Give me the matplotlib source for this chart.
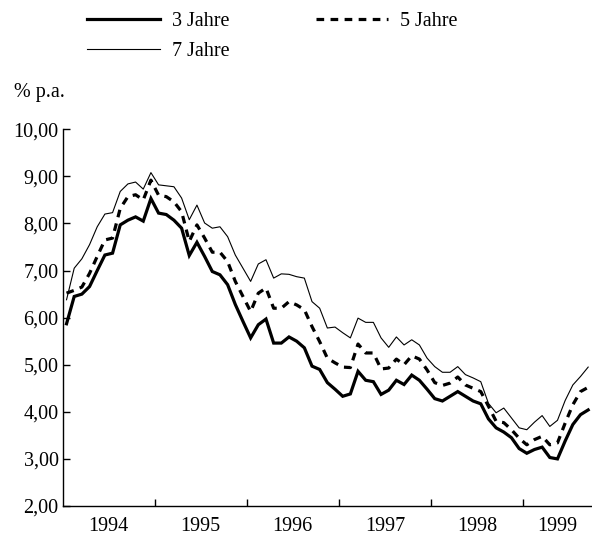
import numpy as np
import matplotlib
matplotlib.use("Agg")
import matplotlib.pyplot as plt
from matplotlib.ticker import FixedLocator, FuncFormatter, NullFormatter

plt.rcParams['font.family'] = ['Liberation Serif', 'DejaVu Serif']

# Monthly yields, Jan 1994 - Sep 1999 (% p.a.)
years = [1994, 1995, 1996, 1997, 1998, 1999]
y_ticks = [2, 3, 4, 5, 6, 7, 8, 9, 10]

jahre3 = [5.87, 6.45, 6.50, 6.66, 7.00, 7.33, 7.37, 7.97, 8.07, 8.14, 8.05, 8.53,
          8.22, 8.19, 8.07, 7.90, 7.32, 7.60, 7.30, 6.98, 6.91, 6.70, 6.28, 5.92,
          5.57, 5.85, 5.97, 5.46, 5.46, 5.59, 5.50, 5.36, 4.97, 4.90, 4.62, 4.48,
          4.33, 4.38, 4.86, 4.67, 4.64, 4.37, 4.46, 4.67, 4.58, 4.78, 4.67, 4.48,
          4.28, 4.23, 4.33, 4.43, 4.33, 4.23, 4.17, 3.85, 3.66, 3.57, 3.45, 3.22,
          3.12, 3.20, 3.25, 3.03, 3.00, 3.38, 3.73, 3.94, 4.04]

jahre5 = [6.52, 6.58, 6.65, 6.94, 7.30, 7.65, 7.69, 8.32, 8.57, 8.61, 8.50, 8.92,
          8.60, 8.57, 8.46, 8.25, 7.62, 7.97, 7.69, 7.39, 7.39, 7.19, 6.77, 6.45,
          6.13, 6.52, 6.63, 6.20, 6.20, 6.34, 6.27, 6.17, 5.81, 5.49, 5.14, 5.04,
          4.95, 4.94, 5.44, 5.25, 5.25, 4.91, 4.93, 5.12, 5.00, 5.19, 5.12, 4.89,
          4.62, 4.56, 4.61, 4.74, 4.57, 4.50, 4.43, 4.12, 3.80, 3.77, 3.62, 3.44,
          3.30, 3.41, 3.48, 3.30, 3.34, 3.76, 4.15, 4.43, 4.52]

jahre7 = [6.38, 7.05, 7.25, 7.55, 7.93, 8.20, 8.23, 8.68, 8.84, 8.88, 8.73, 9.08,
          8.82, 8.80, 8.78, 8.54, 8.08, 8.39, 8.01, 7.90, 7.93, 7.72, 7.33, 7.05,
          6.77, 7.14, 7.23, 6.84, 6.93, 6.92, 6.87, 6.84, 6.34, 6.20, 5.78, 5.80,
          5.68, 5.57, 5.99, 5.90, 5.90, 5.57, 5.37, 5.59, 5.42, 5.53, 5.42, 5.14,
          4.96, 4.84, 4.84, 4.96, 4.79, 4.72, 4.64, 4.18, 3.98, 4.08, 3.87, 3.66,
          3.62, 3.78, 3.92, 3.69, 3.82, 4.24, 4.57, 4.75, 4.95]

labels = ["3 Jahre", "5 Jahre", "7 Jahre"]

W, H = 592, 537
fig = plt.figure(figsize=(W / 100, H / 100), dpi=100)
left_px, right_px, top_px, bot_px = 62.7, 592, 129.3, 506
ax = fig.add_axes([left_px / W, 1 - bot_px / H, (right_px - left_px) / W, (bot_px - top_px) / H])

x = np.arange(len(jahre3))
l3, = ax.plot(x, jahre3, color='black', lw=2.3, solid_joinstyle='miter')
l5, = ax.plot(x, jahre5, color='black', lw=2.3, dashes=(2.4, 2.0))
l7, = ax.plot(x, jahre7, color='black', lw=0.8)

n = len(jahre3)
ax.set_xlim(-0.5, n - 0.5)
ax.set_ylim(2, 10)

for s in ['top', 'right']:
    ax.spines[s].set_visible(False)
for s in ['left', 'bottom']:
    ax.spines[s].set_linewidth(1.0)

# y axis
ax.yaxis.set_major_locator(FixedLocator(y_ticks))
ax.yaxis.set_major_formatter(FuncFormatter(lambda v, p: f"{v:.2f}".replace('.', ',')))
ax.tick_params(axis='y', direction='in', length=5, width=1.0, pad=3, labelsize=14.5)

# x axis: ticks at year boundaries, labels centred in each year
bounds = [12 * (k + 1) - 0.5 for k in range(len(years) - 1)]
starts = [-0.5] + bounds
ends = bounds + [n - 0.5]
centers = [(a + b) / 2 for a, b in zip(starts, ends)]
ax.xaxis.set_major_locator(FixedLocator(bounds))
ax.xaxis.set_major_formatter(NullFormatter())
ax.xaxis.set_minor_locator(FixedLocator(centers))
ax.set_xticklabels([str(y) for y in years], minor=True)
ax.tick_params(axis='x', which='major', direction='in', length=5, width=1.0)
ax.tick_params(axis='x', which='minor', length=0, pad=8, labelsize=14.5)

fig.text(14 / W, 1 - 93 / H, "% p.a.", fontsize=14.5, va='center', ha='left')

leg = fig.legend([l3, l7, l5], [labels[0], labels[2], labels[1]], ncol=2,
                 loc='upper left', bbox_to_anchor=(73 / W, 1 + 2 / H),
                 frameon=False, fontsize=14.5, handlelength=3.6, handletextpad=0.6,
                 columnspacing=4.3, labelspacing=0.55, borderpad=0.2)

fig.savefig("out.png", dpi=100)
